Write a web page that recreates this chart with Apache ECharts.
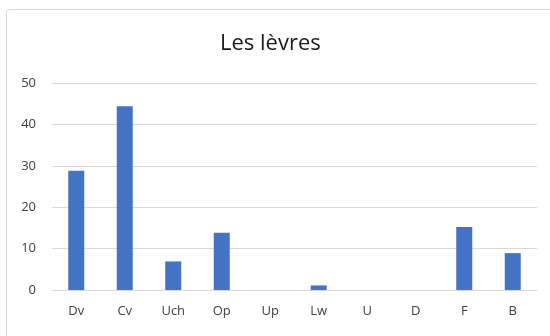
<!DOCTYPE html>
<html>
<head>
<meta charset="utf-8">
<script src="https://cdn.jsdelivr.net/npm/echarts@6/dist/echarts.min.js"></script>
<style>
  html, body { margin: 0; padding: 0; background: #fff; }
  #frame { position: absolute; left: 6px; top: 9px; width: 550px; height: 340px;
           border: 1px solid #d9d9d9; border-radius: 3px; box-sizing: border-box; }
  #chart { position: absolute; left: 0; top: 0; width: 550px; height: 336px; }
</style>
</head>
<body>
<div id="frame"></div>
<div id="chart"></div>
<script>
// Lip shape categories and their counts
const categories = ['Dv', 'Cv', 'Uch', 'Op', 'Up', 'Lw', 'U', 'D', 'F', 'B'];
const counts = [28.8, 44.4, 6.9, 13.8, 0, 1.1, 0, 0, 15.2, 8.9];
const yTicks = { min: 0, max: 50, step: 10 };

const chart = echarts.init(document.getElementById('chart'), null, { renderer: 'canvas' });
chart.setOption({
  animation: false,
  backgroundColor: 'transparent',
  textStyle: { fontFamily: 'Open Sans' },
  title: {
    text: 'Les lèvres',
    left: 215,
    top: 28,
    textStyle: { fontFamily: 'Open Sans', fontSize: 22, fontWeight: 'normal', color: '#1a1a1a' }
  },
  grid: { left: 52, right: 13, top: 83, bottom: 46 },
  xAxis: {
    type: 'category',
    data: categories,
    axisLine: { show: true, lineStyle: { color: '#d9d9d9', width: 1 } },
    axisTick: { show: false },
    axisLabel: { color: '#404040', fontSize: 13, margin: 15, fontFamily: 'Open Sans' }
  },
  yAxis: {
    type: 'value',
    min: yTicks.min,
    max: yTicks.max,
    interval: yTicks.step,
    axisLine: { show: false },
    axisTick: { show: false },
    splitLine: { lineStyle: { color: '#d9d9d9', width: 1 } },
    axisLabel: { color: '#404040', fontSize: 13, margin: 16, fontFamily: 'Open Sans' }
  },
  series: [{
    type: 'bar',
    data: counts,
    barWidth: '33%',
    itemStyle: { color: '#4472C4' }
  }]
});
</script>
</body>
</html>
